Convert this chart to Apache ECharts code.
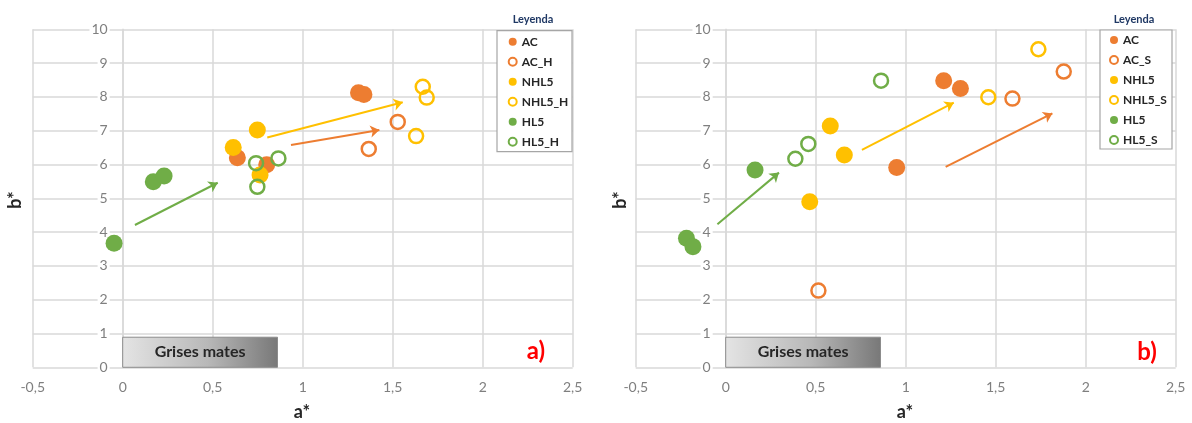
<!DOCTYPE html>
<html>
<head>
<meta charset="utf-8">
<script src="https://cdn.jsdelivr.net/npm/echarts@6/dist/echarts.min.js"></script>
<style>
  html, body { margin: 0; padding: 0; background: #fff; }
  #chart { width: 1192px; height: 423px; }
</style>
</head>
<body>
<div id="chart"></div>
<script>
// Colour coordinates (a*, b*) of the mortar samples, panel a)
const AC_a     = [[0.637, 6.20], [0.80, 5.99], [1.31, 8.12], [1.34, 8.07]];
const AC_H_a   = [[1.528, 7.26], [1.367, 6.46]];
const NHL5_a   = [[0.748, 7.02], [0.614, 6.50], [0.763, 5.69]];
const NHL5_H_a = [[1.667, 8.30], [1.689, 7.98], [1.63, 6.84]];
const HL5_a    = [[-0.048, 3.67], [0.17, 5.49], [0.23, 5.66]];
const HL5_H_a  = [[0.741, 6.04], [0.865, 6.18], [0.748, 5.34]];

// Panel b)
const AC_b     = [[0.95, 5.91], [1.211, 8.48], [1.304, 8.25]];
const AC_S_b   = [[0.515, 2.27], [1.593, 7.95], [1.878, 8.75]];
const NHL5_b   = [[0.581, 7.14], [0.659, 6.28], [0.467, 4.90]];
const NHL5_S_b = [[1.459, 7.99], [1.737, 9.41]];
const HL5_b    = [[-0.218, 3.82], [-0.182, 3.57], [0.163, 5.84]];
const HL5_S_b  = [[0.387, 6.17], [0.459, 6.61], [0.863, 8.48]];

// Trend arrows (start, end) in a*/b* units
const arrowsA = { HL5: [[0.068, 4.21], [0.528, 5.46]], NHL5: [[0.803, 6.80], [1.556, 7.84]], AC: [[0.935, 6.58], [1.426, 7.02]] };
const arrowsB = { HL5: [[-0.046, 4.23], [0.296, 5.76]], NHL5: [[0.757, 6.43], [1.267, 7.83]], AC: [[1.222, 5.93], [1.815, 7.51]] };

// "Grises mates" zone: a* from 0 to 0.86, b* from 0 to 0.89
const matteGrey = [[0, 0], [0.86, 0.89]];

const legendA = ['AC', 'AC_H', 'NHL5', 'NHL5_H', 'HL5', 'HL5_H'];
const legendB = ['AC', 'AC_S', 'NHL5', 'NHL5_S', 'HL5', 'HL5_S'];

const xMin = -0.5, xMax = 2.5, xStep = 0.5;
const yMin = 0, yMax = 10, yStep = 1;

const COLORS = { AC: '#ED7D31', NHL5: '#FFC000', HL5: '#70AD47' };
const FONT = 'Lato, "Open Sans", sans-serif';
const GRID_LINE = { color: '#d9d9d9', width: 1.5 };

const PLOT_W = 540, PLOT_H = 338;
// the vertical axis crosses a* = 0, i.e. (0 - xMin) of the a* range in from the left edge
const Y_AXIS_SHIFT = -PLOT_W * (0 - xMin) / (xMax - xMin);

const chart = echarts.init(document.getElementById('chart'), null, { renderer: 'canvas' });

const comma = v => String(v).replace('.', ',');
const grid = (left) => ({ left: left, top: 29.3, width: PLOT_W, height: PLOT_H });

function xAxis(gi) {
  return {
    type: 'value', gridIndex: gi, min: xMin, max: xMax, interval: xStep,
    axisLine: { show: false, onZero: false }, axisTick: { show: false },
    axisLabel: { formatter: comma, color: '#7f7f7f', fontSize: 14, fontFamily: FONT, margin: 13 },
    splitLine: { lineStyle: GRID_LINE }
  };
}
function yAxis(gi) {
  return {
    type: 'value', gridIndex: gi, min: yMin, max: yMax, interval: yStep,
    position: 'left', offset: Y_AXIS_SHIFT,
    axisLine: { show: true, onZero: false, lineStyle: GRID_LINE }, axisTick: { show: false },
    axisLabel: { color: '#7f7f7f', fontSize: 14, fontFamily: FONT, margin: 13,
                 backgroundColor: '#fff', padding: [0, 2] },
    splitLine: { lineStyle: GRID_LINE }
  };
}

function filled(name, data, color, gi) {
  return {
    type: 'scatter', name: name, data: data, xAxisIndex: gi, yAxisIndex: gi,
    symbol: 'circle', symbolSize: 17, z: 3,
    itemStyle: { color: color, opacity: 1 }
  };
}
function hollow(name, data, color, gi) {
  return {
    type: 'scatter', name: name, data: data, xAxisIndex: gi, yAxisIndex: gi,
    symbol: 'circle', symbolSize: 14, z: 3,
    itemStyle: { color: 'rgba(255,255,255,0)', borderColor: color, borderWidth: 2.5, opacity: 1 }
  };
}
function arrow(seg, color, gi) {
  return {
    type: 'lines', coordinateSystem: 'cartesian2d', xAxisIndex: gi, yAxisIndex: gi,
    symbol: ['none', 'arrow'], symbolSize: 9, z: 2,
    lineStyle: { color: color, width: 2, opacity: 1 },
    data: [{ coords: seg }]
  };
}
function greyZone(gi) {
  return {
    type: 'scatter', data: [], xAxisIndex: gi, yAxisIndex: gi, silent: true,
    markArea: {
      silent: true,
      itemStyle: {
        color: { type: 'linear', x: 0, y: 0, x2: 1, y2: 0,
                 colorStops: [{ offset: 0, color: '#e4e4e4' }, { offset: 0.55, color: '#b8b8b8' }, { offset: 1, color: '#787878' }] },
        borderColor: '#8c8c8c', borderWidth: 1
      },
      label: { show: true, position: 'inside', formatter: 'Grises mates',
               color: '#262626', fontSize: 16, fontWeight: 'bold', fontFamily: FONT },
      data: [[{ coord: matteGrey[0] }, { coord: matteGrey[1] }]]
    }
  };
}

function legend(names, left, top) {
  return {
    data: names, orient: 'vertical', left: left, top: top, padding: 0,
    icon: 'circle', itemWidth: 8, itemHeight: 8, itemGap: 6, z: 8,
    selectedMode: false,
    textStyle: { color: '#262626', fontSize: 12, fontWeight: 'bold', fontFamily: FONT, lineHeight: 14 }
  };
}

function legendFrame(x, y, w, h, cx) {
  return [
    { type: 'rect', shape: { x: x, y: y, width: w, height: h }, z: 7,
      style: { fill: '#fff', stroke: '#a6a6a6', lineWidth: 1.2 } },
    { type: 'text', x: cx, y: y - 11, z: 7,
      style: { text: 'Leyenda', fill: '#1f3864', font: 'bold 11px ' + FONT, textAlign: 'center', textVerticalAlign: 'middle' } }
  ];
}

function txt(s, x, y, font, color, rot) {
  return { type: 'text', x: x, y: y, rotation: rot || 0, z: 7,
    style: { text: s, fill: color, font: font, textAlign: 'center', textVerticalAlign: 'middle' } };
}

const option = {
  animation: false,
  grid: [grid(32.7), grid(635.7)],
  xAxis: [xAxis(0), xAxis(1)],
  yAxis: [yAxis(0), yAxis(1)],
  legend: [legend(legendA, 507.7, 34.7), legend(legendB, 1109, 33)],
  graphic: [].concat(
    legendFrame(497, 30.7, 75, 121, 533),
    legendFrame(1100, 30, 72, 119, 1134),
    [
      txt('b*', 15, 200, 'bold 18px ' + FONT, '#262626', Math.PI / 2),
      txt('a*', 302, 412, 'bold 18px ' + FONT, '#262626'),
      txt('b*', 620, 200, 'bold 18px ' + FONT, '#262626', Math.PI / 2),
      txt('a*', 905, 412, 'bold 18px ' + FONT, '#262626'),
      txt('a)', 536, 351, 'bold 24px ' + FONT, '#ff0000'),
      txt('b)', 1147, 352, 'bold 24px ' + FONT, '#ff0000')
    ]
  ),
  series: [
    greyZone(0),
    arrow(arrowsA.HL5, COLORS.HL5, 0),
    arrow(arrowsA.NHL5, COLORS.NHL5, 0),
    arrow(arrowsA.AC, COLORS.AC, 0),
    filled('AC', AC_a, COLORS.AC, 0),
    hollow('AC_H', AC_H_a, COLORS.AC, 0),
    filled('NHL5', NHL5_a, COLORS.NHL5, 0),
    hollow('NHL5_H', NHL5_H_a, COLORS.NHL5, 0),
    filled('HL5', HL5_a, COLORS.HL5, 0),
    hollow('HL5_H', HL5_H_a, COLORS.HL5, 0),

    greyZone(1),
    arrow(arrowsB.HL5, COLORS.HL5, 1),
    arrow(arrowsB.NHL5, COLORS.NHL5, 1),
    arrow(arrowsB.AC, COLORS.AC, 1),
    filled('AC', AC_b, COLORS.AC, 1),
    hollow('AC_S', AC_S_b, COLORS.AC, 1),
    filled('NHL5', NHL5_b, COLORS.NHL5, 1),
    hollow('NHL5_S', NHL5_S_b, COLORS.NHL5, 1),
    filled('HL5', HL5_b, COLORS.HL5, 1),
    hollow('HL5_S', HL5_S_b, COLORS.HL5, 1)
  ]
};

chart.setOption(option);
</script>
</body>
</html>
